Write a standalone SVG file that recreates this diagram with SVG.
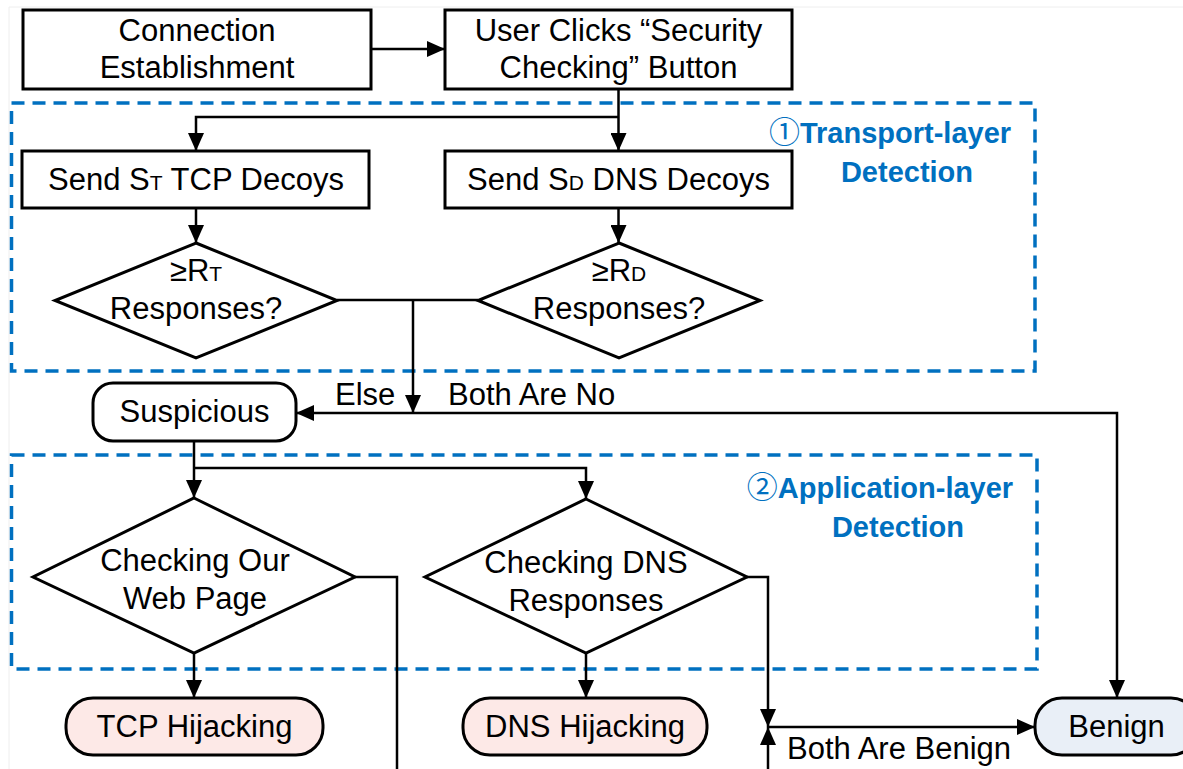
<svg xmlns="http://www.w3.org/2000/svg" width="1183" height="769" viewBox="0 0 1183 769">
  <style>
    .box { fill: #ffffff; stroke: #000000; stroke-width: 3; }
    .pink { fill: #FDE9E7; stroke: #000000; stroke-width: 3; }
    .ok { fill: #E9EFF7; stroke: #000000; stroke-width: 3; }
    .zone { fill: none; stroke: #0070C0; stroke-width: 3.5; stroke-dasharray: 13 8; }
    .lbl { font-family: "Liberation Sans", Arial, sans-serif; font-size: 31px; fill: #000000; text-anchor: middle; }
    .lbl-l { font-family: "Liberation Sans", Arial, sans-serif; font-size: 31px; fill: #000000; }
    .zt { font-family: "Liberation Sans", Arial, "Noto Sans CJK SC", sans-serif; font-size: 29px; font-weight: bold; fill: #0070C0; text-anchor: middle; }
    .circ { font-family: "Noto Sans CJK SC", sans-serif; font-weight: normal; font-size: 31px; }
    .sub { font-size: 21px; }
    .wire { fill: none; stroke: #000000; stroke-width: 2.5; }
  </style>
  <defs>
    <marker id="arrow" markerUnits="userSpaceOnUse" markerWidth="19" markerHeight="16" refX="18" refY="8" orient="auto">
      <path d="M0,0 L18,8 L0,16 Z" fill="#000000"/>
    </marker>
  </defs>

  <rect width="1183" height="769" fill="#ffffff"/>
  <!-- faint frame edge -->
  <path d="M9,769 V7 H1183" fill="none" stroke="#EEEEEE" stroke-width="1"/>

  <!-- detection zones -->
  <g id="zone-transport">
    <rect class="zone" x="11.5" y="103" width="1023.5" height="268"/>
    <text class="zt" x="890" y="143"><tspan class="circ">①</tspan>Transport-layer</text>
    <text class="zt" x="907" y="182">Detection</text>
  </g>
  <g id="zone-application">
    <rect class="zone" x="11.5" y="455" width="1025.5" height="214"/>
    <text class="zt" x="880" y="498"><tspan class="circ">②</tspan>Application-layer</text>
    <text class="zt" x="898" y="537">Detection</text>
  </g>

  <!-- connectors -->
  <g id="connectors">
    <path class="wire" d="M371,49 H445" marker-end="url(#arrow)"/>
    <path class="wire" d="M618.5,89 V151" marker-end="url(#arrow)"/>
    <path class="wire" d="M618.5,117 H196 V151" marker-end="url(#arrow)"/>
    <path class="wire" d="M196,208 V243" marker-end="url(#arrow)"/>
    <path class="wire" d="M618.5,208 V243" marker-end="url(#arrow)"/>
    <path class="wire" d="M337,300 H478"/>
    <path class="wire" d="M413,300 V413" marker-end="url(#arrow)"/>
    <path class="wire" d="M413,413 H296" marker-end="url(#arrow)"/>
    <path class="wire" d="M413,413 H1117 V698" marker-end="url(#arrow)"/>
    <path class="wire" d="M194,441 V498" marker-end="url(#arrow)"/>
    <path class="wire" d="M194,468 H586 V499" marker-end="url(#arrow)"/>
    <path class="wire" d="M194,653 V698" marker-end="url(#arrow)"/>
    <path class="wire" d="M586,653 V698" marker-end="url(#arrow)"/>
    <path class="wire" d="M355,577 H397 V772"/>
    <path class="wire" d="M747,577 H768 V727" marker-end="url(#arrow)"/>
    <path class="wire" d="M768,772 V727" marker-end="url(#arrow)"/>
    <path class="wire" d="M768,727 H1035" marker-end="url(#arrow)"/>
    <text class="lbl-l" x="335" y="405">Else</text>
    <text class="lbl-l" x="448" y="405">Both Are No</text>
    <text class="lbl-l" x="787" y="759">Both Are Benign</text>
  </g>

  <!-- nodes -->
  <g id="connection">
    <rect class="box" x="23" y="10" width="348" height="79"/>
    <text class="lbl" x="197" y="41">Connection</text>
    <text class="lbl" x="197" y="78">Establishment</text>
  </g>
  <g id="user-clicks">
    <rect class="box" x="445" y="10" width="347" height="79"/>
    <text class="lbl" x="618.5" y="41">User Clicks “Security</text>
    <text class="lbl" x="618.5" y="78">Checking” Button</text>
  </g>
  <g id="send-tcp">
    <rect class="box" x="22" y="151" width="347" height="57"/>
    <text class="lbl" x="196" y="190">Send S<tspan class="sub">T</tspan> TCP Decoys</text>
  </g>
  <g id="send-dns">
    <rect class="box" x="445" y="151" width="347" height="57"/>
    <text class="lbl" x="618.5" y="190">Send S<tspan class="sub">D</tspan> DNS Decoys</text>
  </g>
  <g id="check-tcp-resp">
    <polygon class="box" points="196,243 337,300.5 196,358 55,300.5"/>
    <text class="lbl" x="196" y="281">≥R<tspan class="sub">T</tspan></text>
    <text class="lbl" x="196" y="319">Responses?</text>
  </g>
  <g id="check-dns-resp">
    <polygon class="box" points="619,243 760,300.5 619,358 478,300.5"/>
    <text class="lbl" x="619" y="281">≥R<tspan class="sub">D</tspan></text>
    <text class="lbl" x="619" y="319">Responses?</text>
  </g>
  <g id="suspicious">
    <rect class="box" x="93" y="383" width="203" height="58" rx="20" ry="20"/>
    <text class="lbl" x="194.5" y="422">Suspicious</text>
  </g>
  <g id="check-web">
    <polygon class="box" points="194,498 355,577 194,653 33,577"/>
    <text class="lbl" x="195" y="571">Checking Our</text>
    <text class="lbl" x="195" y="609">Web Page</text>
  </g>
  <g id="check-dns">
    <polygon class="box" points="586,499 747,577 586,653 425,577"/>
    <text class="lbl" x="586" y="573">Checking DNS</text>
    <text class="lbl" x="586" y="611">Responses</text>
  </g>
  <g id="tcp-hijacking">
    <rect class="pink" x="66" y="698" width="257" height="57" rx="27" ry="27"/>
    <text class="lbl" x="194.5" y="737">TCP Hijacking</text>
  </g>
  <g id="dns-hijacking">
    <rect class="pink" x="463" y="698" width="244" height="57" rx="27" ry="27"/>
    <text class="lbl" x="585" y="737">DNS Hijacking</text>
  </g>
  <g id="benign">
    <rect class="ok" x="1035" y="698" width="163" height="57" rx="27" ry="27"/>
    <text class="lbl" x="1116.5" y="737">Benign</text>
  </g>
</svg>
